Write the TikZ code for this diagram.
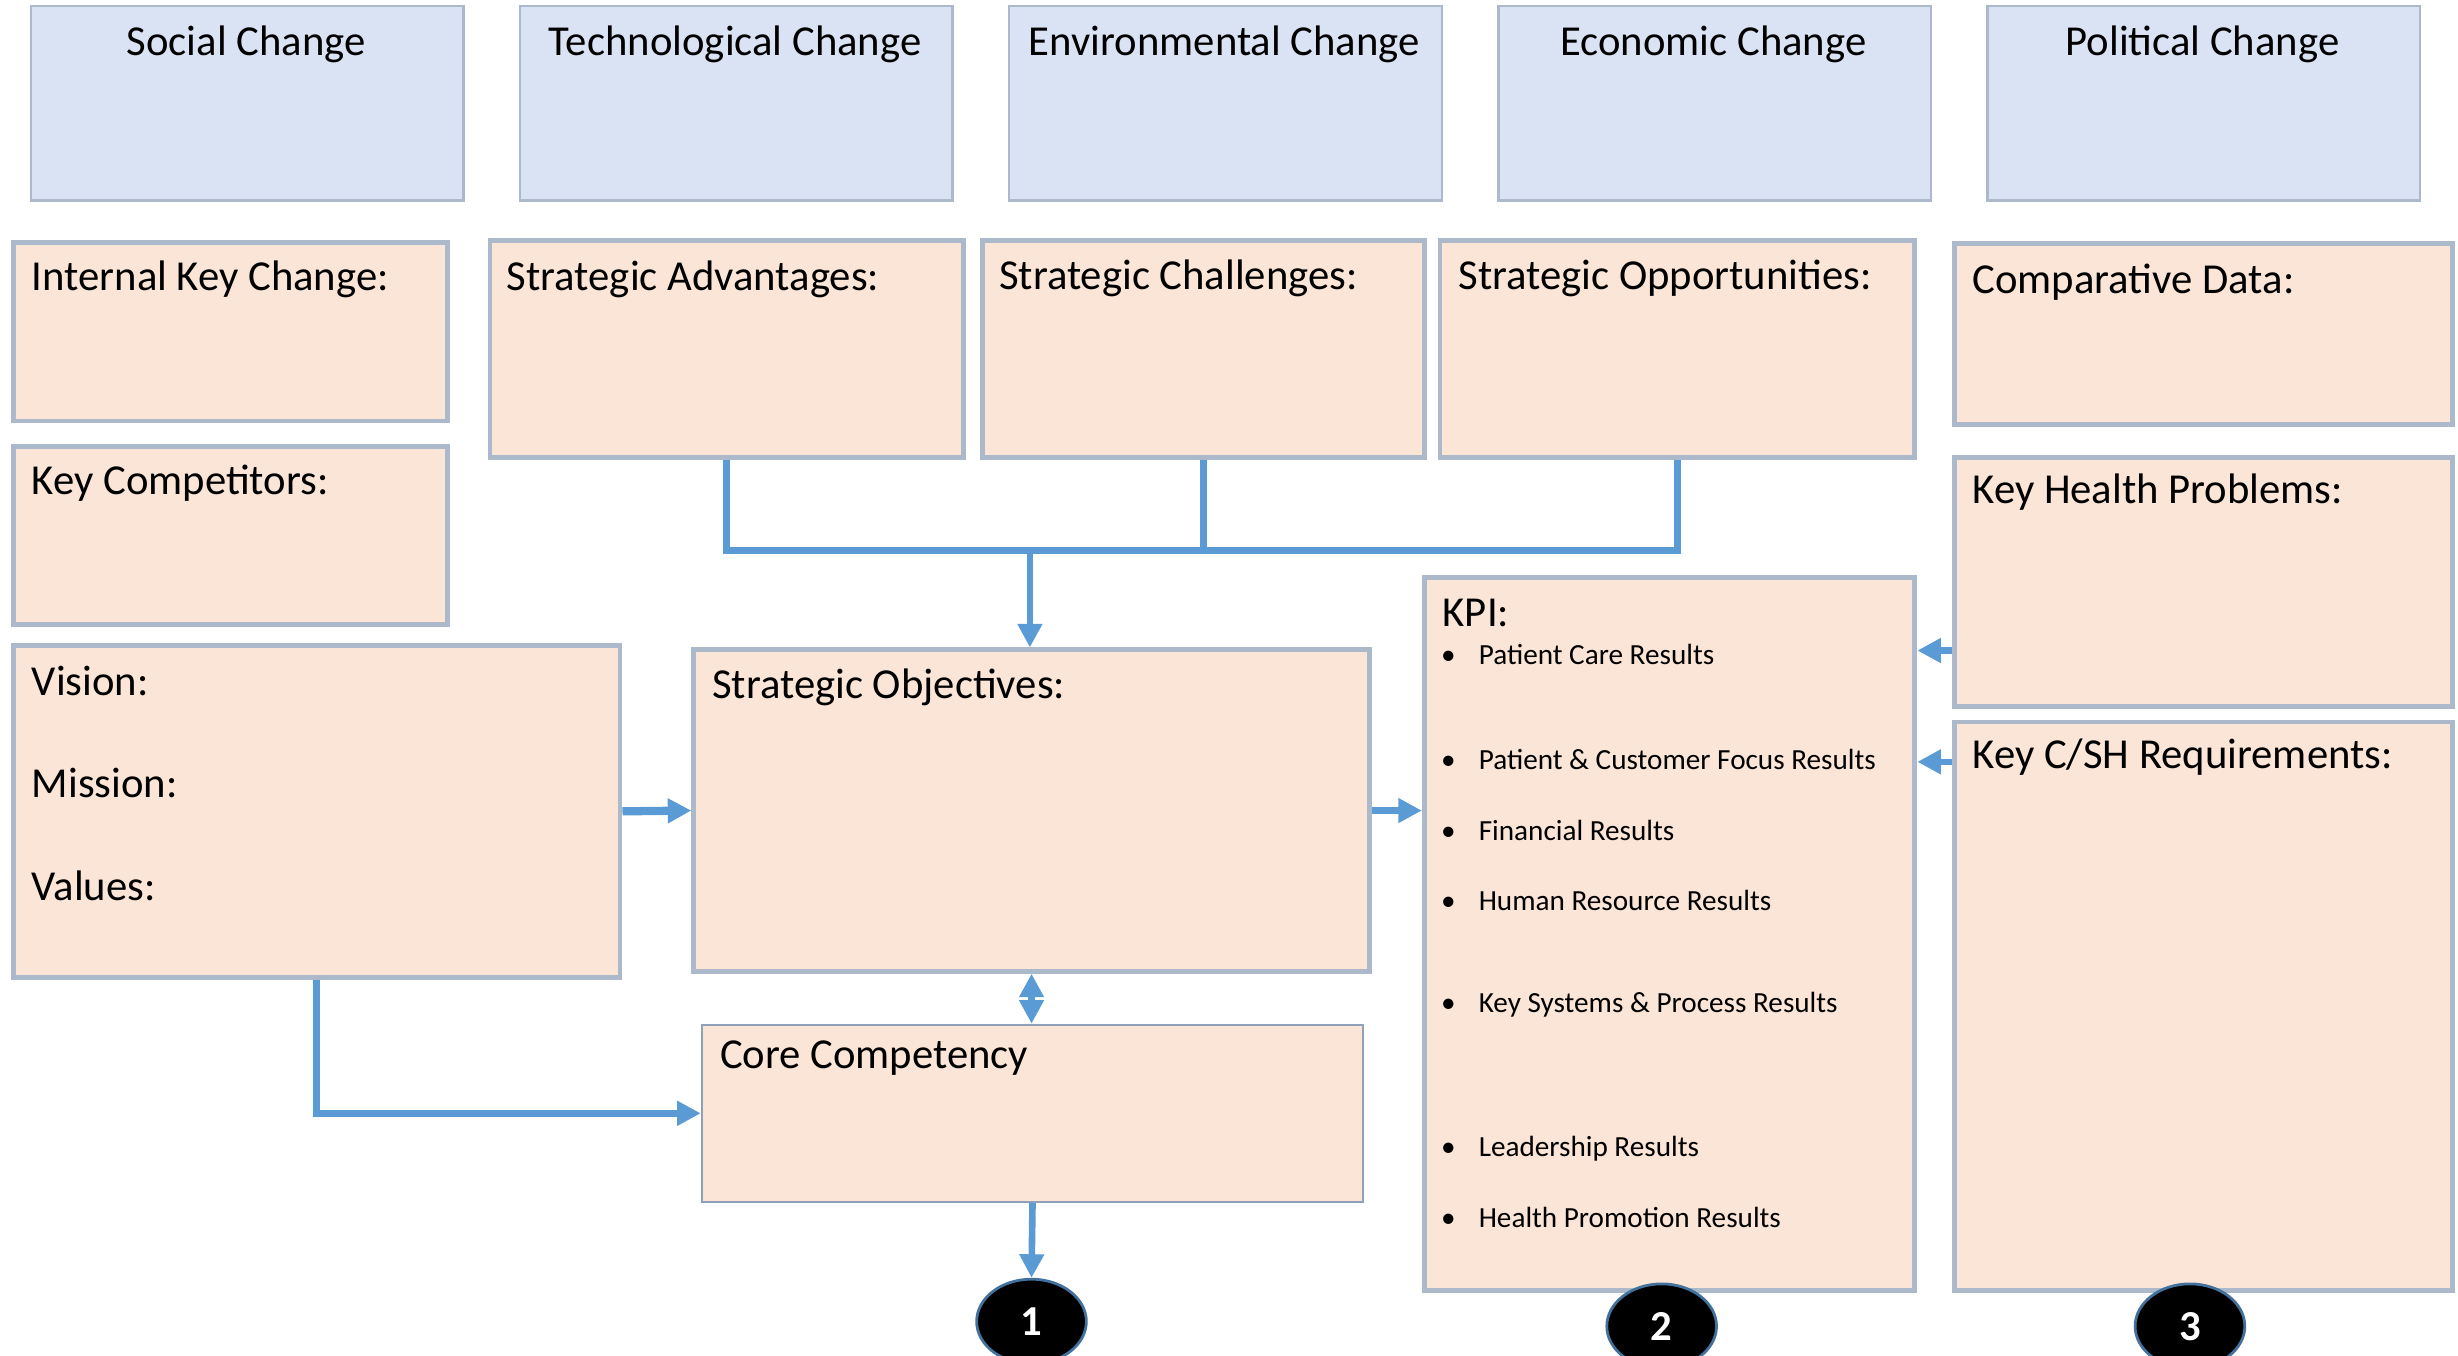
\documentclass[tikz,border=0pt]{standalone}
\usepackage{fontspec}
\setmainfont{Carlito}
\usetikzlibrary{arrows.meta}
\usetikzlibrary{positioning}
\usetikzlibrary{shapes.geometric}

\definecolor{envfill}{HTML}{DAE3F3}
\definecolor{boxfill}{HTML}{FBE5D6}
\definecolor{boxline}{HTML}{ACB9CA}
\definecolor{linkblue}{HTML}{5B9BD5}
\definecolor{ringblue}{HTML}{41719C}
\definecolor{coreline}{HTML}{8FA0B8}

\tikzset{
  env/.style={draw=boxline, fill=envfill, line width=0.9pt, anchor=north west,
    minimum width=5.52cm, minimum height=2.48cm, inner sep=0pt},
  box/.style={draw=boxline, fill=boxfill, line width=1.8pt, anchor=north west, inner sep=0pt},
  head/.style={font=\fontsize{15.5}{18}\selectfont, inner sep=0pt, anchor=base west},
  item/.style={font=\fontsize{10.6}{13}\selectfont, inner sep=0pt, anchor=base west},
  link/.style={draw=linkblue, line width=2.4pt},
  badge/.style={ellipse, draw=ringblue, fill=black, line width=1pt, minimum width=1.4cm,
    minimum height=1.08cm, inner sep=0pt, text=white, font=\fontsize{15.5}{18}\selectfont\bfseries},
}

\begin{document}
\begin{tikzpicture}[x=0.02cm,y=-0.02cm,>={Triangle[length=0.3cm,width=0.3cm]}]
\useasboundingbox (0,0) rectangle (1568,865);

% External change boxes
\node[env] (soc) at (19,3) {};
\node[env] (tec) at (331,3) {};
\node[env] (evn) at (643,3) {};
\node[env] (eco) at (955,3) {};
\node[env] (pol) at (1267,3) {};

\node[head,anchor=base] (soct) at (157,35.5) {Social Change};
\node[head,anchor=base] (tect) at (469,35.5) {Technological Change};
\node[head,anchor=base] (evnt) at (781,35.5) {Environmental Change};
\node[head,anchor=base] (ecot) at (1093,35.5) {Economic Change};
\node[head,anchor=base] (polt) at (1405,35.5) {Political Change};

% Internal boxes
\node[box,minimum width=5.54cm,minimum height=2.28cm] (ikc) at (7,153) {};
\node[box,minimum width=6.04cm,minimum height=2.76cm] (sa) at (311,152) {};
\node[box,minimum width=5.64cm,minimum height=2.76cm] (sc) at (625,152) {};
\node[box,minimum width=6.06cm,minimum height=2.76cm] (sop) at (917,152) {};
\node[box,minimum width=6.36cm,minimum height=2.30cm] (cd) at (1245,154) {};
\node[box,minimum width=5.54cm,minimum height=2.28cm] (kc) at (7,283) {};
\node[box,minimum width=6.36cm,minimum height=3.18cm] (khp) at (1245,290) {};
\node[box,minimum width=7.74cm,minimum height=4.24cm] (vmv) at (7,410) {};
\node[box,minimum width=8.62cm,minimum height=4.10cm] (sobj) at (441,413) {};
\node[box,minimum width=6.26cm,minimum height=9.10cm] (kpi) at (907,367) {};
\node[box,minimum width=6.36cm,minimum height=7.26cm] (kcsh) at (1245,459) {};
\node[box,draw=coreline,line width=0.8pt,minimum width=8.44cm,minimum height=2.26cm] (core) at (447,653) {};

\node[head] (ikct) at (20,185.5) {Internal Key Change:};
\node[head] (sat) at (323,185) {Strategic Advantages:};
\node[head] (sct) at (637,184.5) {Strategic Challenges:};
\node[head] (sopt) at (930,184.5) {Strategic Opportunities:};
\node[head] (cdt) at (1258,187.5) {Comparative Data:};
\node[head] (kct) at (20,315.5) {Key Competitors:};
\node[head] (khpt) at (1258,321.5) {Key Health Problems:};
\node[head] (vis) at (20,443.5) {Vision:};
\node[head] (mis) at (20,508.5) {Mission:};
\node[head] (val) at (20,574.5) {Values:};
\node[head] (sobjt) at (454,445.5) {Strategic Objectives:};
\node[head] (kpit) at (920,399.5) {KPI:};
\node[head] (kcsht) at (1258,490.5) {Key C/SH Requirements:};
\node[head] (coret) at (459,681.5) {Core Competency};

% KPI list
\node[item] (k1) at (919,424) {\makebox[0.48cm][l]{\textbullet}Patient Care Results};
\node[item] (k2) at (919,491) {\makebox[0.48cm][l]{\textbullet}Patient \& Customer Focus Results};
\node[item] (k3) at (919,536) {\makebox[0.48cm][l]{\textbullet}Financial Results};
\node[item] (k4) at (919,581) {\makebox[0.48cm][l]{\textbullet}Human Resource Results};
\node[item] (k5) at (919,646) {\makebox[0.48cm][l]{\textbullet}Key Systems \& Process Results};
\node[item] (k6) at (919,738) {\makebox[0.48cm][l]{\textbullet}Leadership Results};
\node[item] (k7) at (919,783) {\makebox[0.48cm][l]{\textbullet}Health Promotion Results};

% Numbered badges
\node[badge] (b1) at (658,843) {1};
\node[badge] (b2) at (1060,846) {2};
\node[badge] (b3) at (1397,846) {3};

% Connectors
\coordinate (jn) at (657,351);
\draw[link] (sa.south) |- (sop.south |- jn) -- (sop.south);
\draw[link] (sc.south) -- (sc.south |- jn);
\draw[link,->] (jn) -- (jn |- sobj.north);
\draw[link,->,line width=3pt] (vmv.east) -- (sobj.west);
\draw[link,->] (sobj.east) -- (sobj.east -| kpi.west);
\draw[link,->] ([yshift=-2.5cm]khp.north west) -- ([yshift=-2.5cm]khp.north west -| kpi.east);
\draw[link,->] ([yshift=-0.54cm]kcsh.north west) -- ([yshift=-0.54cm]kcsh.north west -| kpi.east);
\draw[link,<->] (sobj.south) -- (sobj.south |- core.north);
\draw[link,->] (vmv.south) |- (core.west);
\draw[link,->] (core.south) -- (b1.north);

\end{tikzpicture}
\end{document}
